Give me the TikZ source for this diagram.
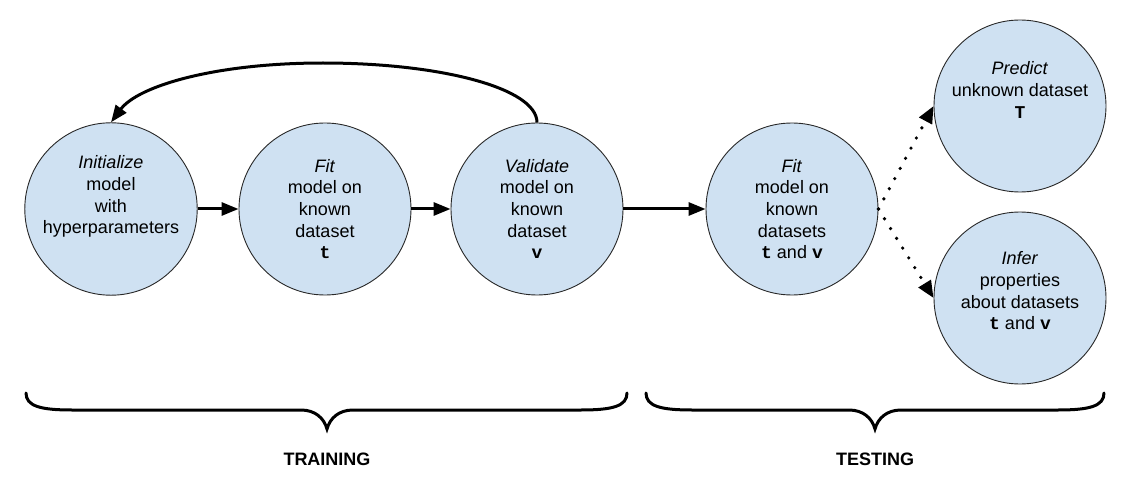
\documentclass[tikz,border=0pt]{standalone}
\usepackage{fontspec}
\setmainfont{Liberation Sans}
\setmonofont{Liberation Mono}
\usetikzlibrary{arrows.meta}
\definecolor{cfill}{RGB}{207,225,242}
\definecolor{cline}{RGB}{40,40,40}
\newcommand\mb[1]{\texttt{\textbf{#1}}}
\newcommand\mybrace[5]{%
  \draw[bracestyle] (#1,#4) .. controls (#1,#5-4) and (#1+14,#5) .. (#1+46,#5)
    -- (#2-26,#5) .. controls (#2-12,#5) and (#2-3,#5+8) .. (#2,#5+19)
    .. controls (#2+3,#5+8) and (#2+12,#5) .. (#2+26,#5)
    -- (#3-46,#5) .. controls (#3-14,#5) and (#3,#5-4) .. (#3,#4);}
\tikzset{
  circ/.style={circle, draw=cline, line width=0.9pt, fill=cfill, minimum size=172pt,
    inner sep=0pt, align=center, font=\fontsize{18}{21.7}\selectfont},
  arr/.style={line width=3pt, -{Triangle[length=17pt,width=13pt]}},
  dotarr/.style={line width=3.6pt, line cap=round, dash pattern=on 0pt off 11.5pt,
    -{Triangle[length=17pt,width=14pt]}},
  bracestyle/.style={line width=3pt, line cap=round},
  phase/.style={font=\fontsize{18}{21}\selectfont\bfseries}
}
\begin{document}
\begin{tikzpicture}[x=1pt,y=-1pt]
\useasboundingbox (0,0) rectangle (1136,484);
\node[circ] (i) at (111,209) {\textit{Initialize}\\model\\with\\hyperparameters\\\strut};
\node[circ] (f) at (325,209) {\textit{Fit}\\model on\\known\\dataset\\\mb{t}};
\node[circ] (v) at (537,209) {\textit{Validate}\\model on\\known\\dataset\\\mb{v}};
\node[circ] (g) at (792,209) {\textit{Fit}\\model on\\known\\datasets\\\mb{t} and \mb{v}};
\node[circ] (p) at (1020,106) {\textit{Predict}\\unknown dataset\\\mb{T}\\\strut\\[-18pt]\strut};
\node[circ] (n) at (1020,298) {\textit{Infer}\\properties\\about datasets\\\mb{t} and \mb{v}\\[-14pt]\strut};

\draw[arr] (i) -- (f);
\draw[arr] (f) -- (v);
\draw[arr] (v) -- (g);
\draw[arr] (v.north) .. controls (537,88) and (440,63) .. (323,63)
  .. controls (215,63) and (138,86) .. (i.north);
\draw[dotarr] (g.east) -- (p.west);
\draw[dotarr] (g.east) -- (n.west);

\mybrace{26}{327}{627}{393}{410}
\mybrace{646}{875}{1104}{393}{410}
\node[phase] (tr) at (327,459) {TRAINING};
\node[phase] (te) at (875,459) {TESTING};
\end{tikzpicture}
\end{document}
